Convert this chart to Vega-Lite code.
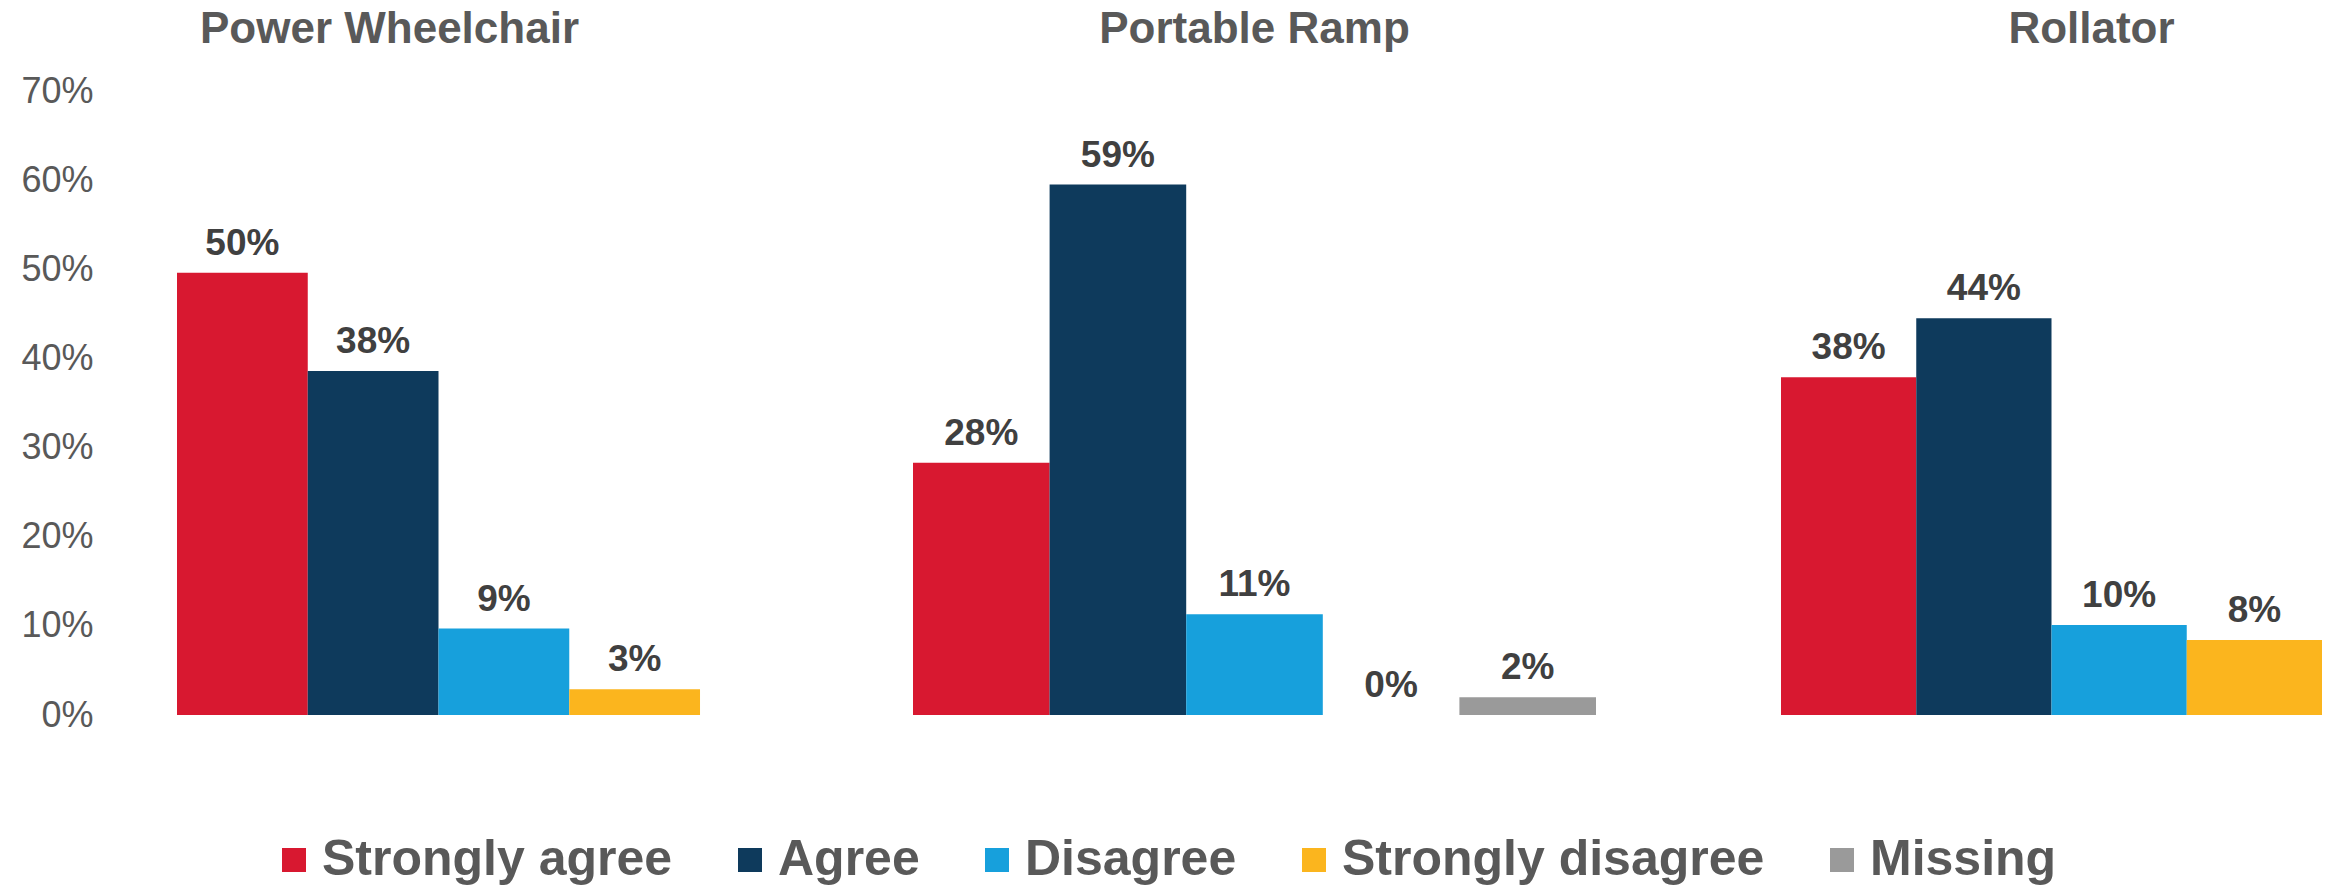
{
  "$schema": "https://vega.github.io/schema/vega-lite/v6.json",
  "background": "white",
  "padding": {"left": 20, "top": 8, "right": 5, "bottom": 5},
  "data": {"values": [
    {"device": "Power Wheelchair", "response": "Strongly agree", "value": 0.496, "label": "50%"},
    {"device": "Power Wheelchair", "response": "Agree", "value": 0.386, "label": "38%"},
    {"device": "Power Wheelchair", "response": "Disagree", "value": 0.097, "label": "9%"},
    {"device": "Power Wheelchair", "response": "Strongly disagree", "value": 0.029, "label": "3%"},
    {"device": "Portable Ramp", "response": "Strongly agree", "value": 0.283, "label": "28%"},
    {"device": "Portable Ramp", "response": "Agree", "value": 0.595, "label": "59%"},
    {"device": "Portable Ramp", "response": "Disagree", "value": 0.113, "label": "11%"},
    {"device": "Portable Ramp", "response": "Strongly disagree", "value": 0, "label": "0%"},
    {"device": "Portable Ramp", "response": "Missing", "value": 0.02, "label": "2%"},
    {"device": "Rollator", "response": "Strongly agree", "value": 0.379, "label": "38%"},
    {"device": "Rollator", "response": "Agree", "value": 0.445, "label": "44%"},
    {"device": "Rollator", "response": "Disagree", "value": 0.101, "label": "10%"},
    {"device": "Rollator", "response": "Strongly disagree", "value": 0.084, "label": "8%"}
  ]},
  "spacing": 185,
  "bounds": "flush",
  "hconcat": [
    {
      "width": 551, "height": 624,
      "transform": [{"filter": "datum.device === 'Power Wheelchair'"}],
      "title": {"text": "Power Wheelchair", "dx": -63, "offset": 21},
      "encoding": {
        "x": {"field": "response", "type": "nominal", "axis": null,
              "scale": {"domain": ["Strongly agree", "Agree", "Disagree", "Strongly disagree"], "paddingInner": 0, "paddingOuter": 0.107, "align": 0}},
        "y": {"field": "value", "type": "quantitative",
              "scale": {"domain": [0, 0.7]},
              "axis": {"format": ".0%", "values": [0, 0.1, 0.2, 0.3, 0.4, 0.5, 0.6, 0.7], "domain": false, "ticks": false, "grid": false,
                       "labelPadding": 84, "labelFontSize": 36, "labelColor": "#595959", "labelFlush": false, "minExtent": 156, "maxExtent": 156, "title": null}}
      },
      "layer": [
        {"mark": {"type": "bar"},
         "encoding": {"color": {"field": "response", "type": "nominal",
           "scale": {"domain": ["Strongly agree", "Agree", "Disagree", "Strongly disagree", "Missing"],
                     "range": ["#D81830", "#0E3A5C", "#17A0DC", "#FBB51E", "#9A9A9A"]},
           "legend": {"orient": "none", "legendX": 92, "legendY": 744, "direction": "horizontal", "title": null,
                      "symbolType": "square", "symbolSize": 576, "symbolStrokeWidth": 0, "symbolOpacity": 1,
                      "labelFontSize": 50, "labelFontWeight": "bold", "labelColor": "#595959", "labelLimit": 1000,
                      "labelOffset": 3, "columnPadding": 52}}}},
        {"mark": {"type": "text", "baseline": "alphabetic", "dy": -18, "fontSize": 37, "fontWeight": "bold", "color": "#404040"},
         "encoding": {"text": {"field": "label"}}}
      ]
    },
    {
      "width": 683, "height": 624,
      "transform": [{"filter": "datum.device === 'Portable Ramp'"}],
      "title": {"text": "Portable Ramp", "offset": 39},
      "encoding": {
        "x": {"field": "response", "type": "nominal", "axis": null,
              "scale": {"domain": ["Strongly agree", "Agree", "Disagree", "Strongly disagree", "Missing"], "paddingInner": 0, "paddingOuter": 0}},
        "y": {"field": "value", "type": "quantitative", "scale": {"domain": [0, 0.7]}, "axis": null}
      },
      "layer": [
        {"mark": {"type": "bar"},
         "encoding": {"color": {"field": "response", "type": "nominal"}}},
        {"mark": {"type": "text", "baseline": "alphabetic", "dy": -18, "fontSize": 37, "fontWeight": "bold", "color": "#404040"},
         "encoding": {"text": {"field": "label"}}}
      ]
    },
    {
      "width": 541, "height": 624,
      "transform": [{"filter": "datum.device === 'Rollator'"}],
      "title": {"text": "Rollator", "dx": 40, "offset": 39},
      "encoding": {
        "x": {"field": "response", "type": "nominal", "axis": null,
              "scale": {"domain": ["Strongly agree", "Agree", "Disagree", "Strongly disagree"], "paddingInner": 0, "paddingOuter": 0}},
        "y": {"field": "value", "type": "quantitative", "scale": {"domain": [0, 0.7]}, "axis": null}
      },
      "layer": [
        {"mark": {"type": "bar"},
         "encoding": {"color": {"field": "response", "type": "nominal"}}},
        {"mark": {"type": "text", "baseline": "alphabetic", "dy": -18, "fontSize": 37, "fontWeight": "bold", "color": "#404040"},
         "encoding": {"text": {"field": "label"}}}
      ]
    }
  ],
  "resolve": {"scale": {"color": "shared", "y": "shared"}},
  "config": {
    "font": "Liberation Sans",
    "view": {"stroke": null},
    "title": {"fontSize": 44, "fontWeight": "bold", "color": "#595959", "anchor": "middle", "frame": "group"}
  }
}
